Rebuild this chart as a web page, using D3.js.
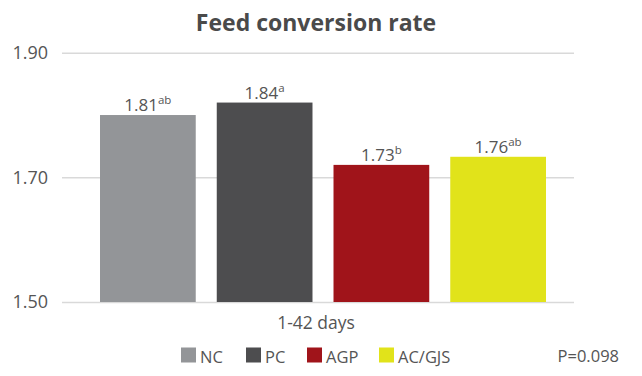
<!DOCTYPE html>
<html>
<head>
<meta charset="utf-8">
<script src="https://cdn.jsdelivr.net/npm/d3@7"></script>
<style>
  body { margin: 0; background: #fff; }
  text { font-family: "Open Sans", sans-serif; fill: #555; }
</style>
</head>
<body>
<div id="chart"></div>
<script>
// chart data
const groups = ["NC", "PC", "AGP", "AC/GJS"];
const barValues = [1.80, 1.82, 1.72, 1.733];
const valueLabels = ["1.81", "1.84", "1.73", "1.76"];
const letters = ["ab", "a", "b", "ab"];
const colors = ["#939598", "#4d4d4f", "#a0141a", "#e1e31a"];
const yTicks = [1.50, 1.70, 1.90];
const period = "1-42 days";
const pValue = "P=0.098";

const width = 642, height = 376;

const svg = d3.select("#chart")
    .append("svg")
    .attr("width", width)
    .attr("height", height);

const y = d3.scaleLinear().domain([1.5, 1.9]).range([302, 52.7]);
const x = d3.scaleBand().domain(groups).range([100, 546]).paddingInner(0.18);

// title
svg.append("text")
    .attr("x", 316)
    .attr("y", 31)
    .attr("text-anchor", "middle")
    .style("font-size", "23px")
    .style("font-weight", "bold")
    .style("fill", "#4a4a4a")
    .text("Feed conversion rate");

// gridlines + y labels
svg.append("g")
    .attr("transform", "translate(62,0)")
    .call(d3.axisLeft(y).tickValues(yTicks).tickSize(-512).tickPadding(14).tickFormat(d3.format(".2f")))
    .call(g => g.select(".domain").remove())
    .call(g => g.selectAll("line").attr("stroke", "#d9d9d9").attr("stroke-width", 1.5))
    .call(g => g.selectAll("text").style("font-size", "18px").style("fill", "#555").attr("font-family", null));

// bars
svg.selectAll("rect.bar")
    .data(groups)
    .join("rect")
    .attr("class", "bar")
    .attr("x", d => x(d))
    .attr("width", x.bandwidth())
    .attr("y", (d, i) => y(barValues[i]))
    .attr("height", (d, i) => y(1.5) - y(barValues[i]))
    .attr("fill", (d, i) => colors[i]);

// value labels with superscript letters
const lab = svg.selectAll("text.val")
    .data(groups)
    .join("text")
    .attr("class", "val")
    .attr("x", d => x(d) + x.bandwidth() / 2)
    .attr("y", (d, i) => y(barValues[i]) - 4)
    .attr("text-anchor", "middle")
    .style("font-size", "17px");
lab.append("tspan").text((d, i) => valueLabels[i]);
lab.append("tspan")
    .attr("dy", -7)
    .style("font-size", "11.5px")
    .text((d, i) => letters[i]);

// x label
svg.append("text")
    .attr("x", 316)
    .attr("y", 329)
    .attr("text-anchor", "middle")
    .style("font-size", "17.5px")
    .text(period);

// legend
const legendX = [181, 246, 307, 379];
const leg = svg.selectAll("g.leg")
    .data(groups)
    .join("g")
    .attr("class", "leg")
    .attr("transform", (d, i) => `translate(${legendX[i]},347.5)`);
leg.append("rect")
    .attr("width", 15)
    .attr("height", 15)
    .attr("fill", (d, i) => colors[i]);
leg.append("text")
    .attr("x", 19)
    .attr("y", 15)
    .style("font-size", "16.5px")
    .text(d => d);

svg.append("text")
    .attr("x", 619)
    .attr("y", 362)
    .attr("text-anchor", "end")
    .style("font-size", "16.5px")
    .text(pValue);
</script>
</body>
</html>
